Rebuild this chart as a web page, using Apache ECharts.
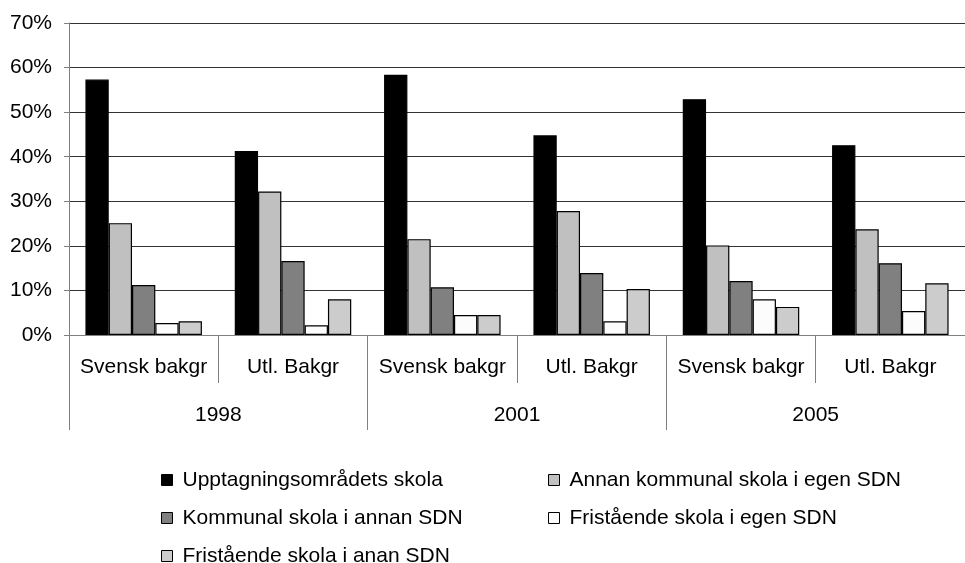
<!DOCTYPE html>
<html>
<head>
<meta charset="utf-8">
<script src="https://cdn.jsdelivr.net/npm/echarts@6/dist/echarts.min.js"></script>
<style>html,body{margin:0;padding:0;background:#fff;}#c{width:965px;height:563px;}</style>
</head>
<body>
<div id="c"></div>
<script>
var groups = ['Svensk bakgr', 'Utl. Bakgr', 'Svensk bakgr', 'Utl. Bakgr', 'Svensk bakgr', 'Utl. Bakgr'];
var years = ['1998', '2001', '2005'];
var seriesNames = ['Upptagningsområdets skola', 'Annan kommunal skola i egen SDN', 'Kommunal skola i annan SDN', 'Fristående skola i egen SDN', 'Fristående skola i anan SDN'];
var upptagning = [57.3, 41.3, 58.4, 44.8, 52.9, 42.6];
var annanKommunal = [25.1, 32.2, 21.5, 27.8, 20.1, 23.7];
var kommunalAnnan = [11.2, 16.6, 10.7, 13.9, 12.1, 16.1];
var fristaendeEgen = [2.7, 2.2, 4.5, 3.1, 8.0, 5.4];
var fristaendeAnan = [3.1, 8.0, 4.5, 10.3, 6.3, 11.6];
var colors = ['#000000', '#c0c0c0', '#808080', '#fcfcfc', '#cccccc'];
var values = [upptagning, annanKommunal, kommunalAnnan, fristaendeEgen, fristaendeAnan];

var font = 'Liberation Sans, Arial, sans-serif';
var chart = echarts.init(document.getElementById('c'), null, {renderer: 'canvas'});
var series = seriesNames.map(function (n, i) {
  return {
    name: n, type: 'bar', xAxisIndex: 0, data: values[i],
    barGap: '0%', barCategoryGap: '22%',
    itemStyle: {color: colors[i], borderColor: '#000', borderWidth: 1.2},
    emphasis: {disabled: true}
  };
});
var legendText = {fontFamily: font, fontSize: 21, color: '#000', lineHeight: 22, padding: [0, 0, 0, 5]};
var legendPos = [[161, 469], [548, 469], [161, 507], [548, 507], [161, 545]];
var legends = seriesNames.map(function (n, i) {
  return {data: [n], left: legendPos[i][0], top: legendPos[i][1], padding: 0,
    icon: 'rect', itemWidth: 11, itemHeight: 11, textStyle: legendText,
    itemStyle: {borderColor: '#000', borderWidth: 1}};
});
chart.setOption({
  animation: false,
  grid: {left: 69, top: 23, bottom: 228, right: -9, containLabel: false},
  legend: legends,
  xAxis: [
    {type: 'category', data: groups, position: 'bottom',
     axisLine: {show: true, lineStyle: {color: '#808080', width: 1}},
     axisTick: {show: true, interval: 0, length: 48, lineStyle: {color: '#808080'}},
     axisLabel: {interval: 0, margin: 22, fontFamily: font, fontSize: 21, color: '#000'}},
    {type: 'category', data: years, position: 'bottom',
     axisLine: {show: false},
     axisTick: {show: true, interval: 0, length: 95, lineStyle: {color: '#808080'}},
     axisLabel: {interval: 0, margin: 70, fontFamily: font, fontSize: 21, color: '#000'}}
  ],
  yAxis: {
    type: 'value', min: 0, max: 70, interval: 10,
    axisLine: {show: true, lineStyle: {color: '#808080'}},
    axisTick: {show: true, length: 5, lineStyle: {color: '#808080'}},
    axisLabel: {formatter: '{value}%', margin: 17, fontFamily: font, fontSize: 21, color: '#000'},
    splitLine: {show: true, lineStyle: {color: '#333333', width: 1}}
  },
  series: series
});
</script>
</body>
</html>
